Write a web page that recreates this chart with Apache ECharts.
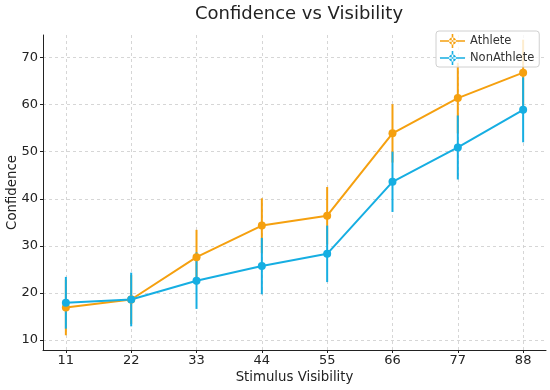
<!DOCTYPE html>
<html><head><meta charset="utf-8">
<script src="https://cdn.jsdelivr.net/npm/echarts@6/dist/echarts.min.js"></script>
<style>html,body{margin:0;padding:0;background:#fff}#c{width:550px;height:390px}</style>
</head><body><div id="c"></div>
<script>
const visibility = [11, 22, 33, 44, 55, 66, 77, 88];
const athlete = [16.9, 18.6, 27.6, 34.3, 36.4, 53.9, 61.4, 66.8];
const athleteErr = [5.9, 5.2, 5.8, 5.8, 6.1, 6.2, 7.5, 7.0];
const nonAthlete = [17.9, 18.6, 22.6, 25.7, 28.3, 43.6, 50.9, 58.9];
const nonAthleteErr = [5.5, 5.7, 6.0, 6.0, 6.0, 6.4, 6.8, 6.9];
const yTicks = [10, 20, 30, 40, 50, 60, 70];

const ORANGE = '#f5a00f', BLUE = '#16aee2';
const FONT = 'DejaVu Sans';

function pairs(ys){ return visibility.map((x,i)=>[x, ys[i]]); }
function errData(ys, es){ return visibility.map((x,i)=>[x, ys[i]-es[i], ys[i]+es[i]]); }
function errSeries(name, ys, es, color){
  return {
    type: 'custom', name: name, silent: true, color: color,
    data: errData(ys, es),
    renderItem: function(params, api){
      const p1 = api.coord([api.value(0), api.value(1)]);
      const p2 = api.coord([api.value(0), api.value(2)]);
      return {type:'line', shape:{x1:p1[0],y1:p1[1],x2:p2[0],y2:p2[1]}, style:{stroke:color, lineWidth:2}};
    },
    encode: {x:0, y:[1,2]}
  };
}
const icon = 'path://M0,6.2h25v1.6h-25z M11.7,0h1.6v14h-1.6z M12.5,3.5a3.5,3.5 0 1,0 0.01,0z';
const chart = echarts.init(document.getElementById('c'), null, {renderer:'canvas'});
chart.setOption({
  animation: false,
  backgroundColor: '#fff',
  textStyle: {fontFamily: FONT},
  title: {text: 'Confidence vs Visibility', left: 294, textAlign: 'center', top: 0,
    textStyle: {fontFamily: FONT, fontSize: 18, fontWeight: 'normal', color: '#222'}},
  grid: {left: 43, right: 4, top: 35, bottom: 40, containLabel: false, outerBoundsMode: 'none'},
  legend: {
    orient: 'vertical', left: 436, top: 31, padding: [3, 5, 2, 4], itemGap: 3,
    itemWidth: 25, itemHeight: 14,
    backgroundColor: 'rgba(255,255,255,0.8)', borderColor: '#d0d0d0', borderWidth: 1, borderRadius: 3,
    textStyle: {fontFamily: FONT, fontSize: 11.5, color: '#333'},
    data: [{name:'Athlete', icon: icon}, {name:'NonAthlete', icon: icon}]
  },
  xAxis: {
    type: 'value', min: 7.15, max: 91.85,
    name: 'Stimulus Visibility', nameLocation: 'middle', nameGap: 21, nameMoveOverlap: false,
    nameTextStyle: {fontFamily: FONT, fontSize: 13.3, color: '#222', verticalAlign: 'top'},
    axisLine: {show: true, lineStyle: {color: '#222', width: 1}},
    axisTick: {show: true, customValues: visibility, length: 3, lineStyle:{color:'#222'}},
    axisLabel: {customValues: visibility, fontFamily: FONT, fontSize: 13, color: '#222', margin: 4},
    splitLine: {show: true, lineStyle: {color: '#cccccc', type: [3, 3], width: 0.8}}
  },
  yAxis: {
    type: 'value', min: 7.87, max: 74.8,
    name: 'Confidence', nameLocation: 'middle', nameGap: 24, nameRotate: 90, nameMoveOverlap: false,
    nameTextStyle: {fontFamily: FONT, fontSize: 13.3, color: '#222', verticalAlign: 'bottom'},
    axisLine: {show: true, lineStyle: {color: '#222', width: 1}},
    axisTick: {show: true, customValues: yTicks, length: 3, lineStyle:{color:'#222'}},
    axisLabel: {customValues: yTicks, fontFamily: FONT, fontSize: 13, color: '#222', margin: 5},
    splitLine: {show: true, lineStyle: {color: '#cccccc', type: [3, 3], width: 0.8}}
  },
  series: [
    errSeries('AthleteErr', athlete, athleteErr, ORANGE),
    {type:'line', name:'Athlete', data: pairs(athlete), color: ORANGE, symbol:'circle', symbolSize: 8,
     lineStyle:{width:2, color: ORANGE}, itemStyle:{color: ORANGE}},
    errSeries('NonAthleteErr', nonAthlete, nonAthleteErr, BLUE),
    {type:'line', name:'NonAthlete', data: pairs(nonAthlete), color: BLUE, symbol:'circle', symbolSize: 8,
     lineStyle:{width:2, color: BLUE}, itemStyle:{color: BLUE}}
  ]
});
</script></body></html>
